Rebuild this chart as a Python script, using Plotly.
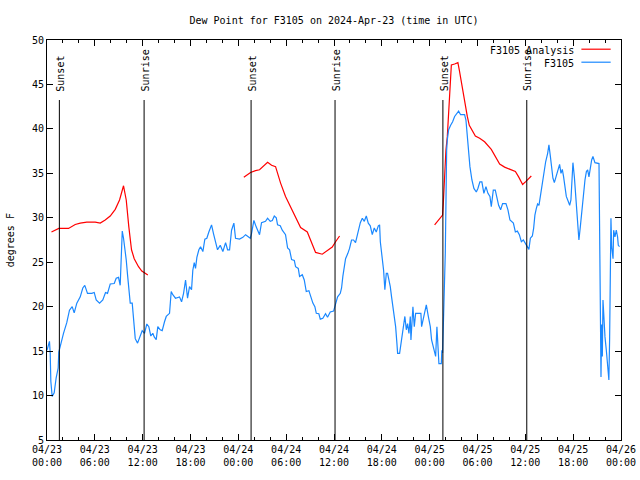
import pandas as pd
import plotly.graph_objects as go

BASE = pd.Timestamp("2024-04-23 00:00")

# Observed dew point (F3105): hours since 2024-04-23 00:00 UTC, degrees F
obs_hours = [0.0, 0.31, 0.4, 0.48, 0.65, 0.9, 1.15, 1.4, 1.48, 1.73, 2.07, 2.48, 2.82, 3.16, 3.41, 3.74,
             4.17, 4.49, 4.74, 5.08, 5.62, 5.92, 6.17, 6.59, 7.0, 7.34, 7.59, 7.93, 8.43, 8.68, 8.97, 9.18,
             9.26, 9.35, 9.44, 9.6, 9.76, 9.94, 10.1, 10.44, 10.69, 10.85, 11.07, 11.36, 11.69, 11.94,
             12.23, 12.52, 12.77, 13.02, 13.27, 13.45, 13.7, 13.9, 14.2, 14.45, 14.74, 14.96, 15.37, 15.58,
             15.78, 16.12, 16.62, 16.88, 17.13, 17.38, 17.63, 17.88, 18.13, 18.29, 18.47, 18.63, 18.8,
             19.05, 19.26, 19.55, 19.8, 20.05, 20.3, 20.64, 20.89, 21.14, 21.39, 21.73, 22.06, 22.4,
             22.65, 22.9, 23.15, 23.44, 23.65, 24.15, 24.57, 24.91, 25.5, 25.66, 25.95, 26.25, 26.66,
             26.91, 27.41, 27.67, 28.0, 28.26, 28.51, 28.76, 28.92, 29.26, 29.51, 29.92, 30.18, 30.43,
             30.68, 31.02, 31.18, 31.52, 31.68, 32.02, 32.27, 32.52, 32.85, 33.1, 33.35, 33.6, 33.78,
             34.1, 34.28, 34.6, 34.94, 35.19, 35.53, 35.95, 36.2, 36.45, 36.79, 36.95, 37.11, 37.29,
             37.45, 37.74, 37.95, 38.2, 38.45, 38.7, 38.96, 39.3, 39.55, 39.8, 40.05, 40.3, 40.55, 40.8,
             41.05, 41.3, 41.56, 41.72, 41.81, 42.06, 42.22, 42.38, 42.56, 42.72, 42.89, 43.06, 43.22,
             43.39, 43.56, 43.73, 43.89, 43.98, 44.23, 44.39, 44.57, 44.89, 45.07, 45.23, 45.4, 45.57,
             45.65, 45.73, 45.9, 46.07, 46.24, 46.4, 46.9, 46.99, 47.24, 47.58, 47.83, 48.08, 48.24,
             48.58, 48.75, 48.91, 49.16, 49.46, 49.53, 49.62, 49.71, 49.79, 49.96, 50.04, 50.13, 50.21,
             50.38, 50.63, 50.88, 51.13, 51.38, 51.63, 51.88, 52.38, 52.55, 52.72, 52.89, 53.05, 53.3,
             53.55, 53.85, 54.05, 54.3, 54.55, 54.8, 55.06, 55.31, 55.56, 55.73, 55.98, 56.23, 56.4,
             56.65, 56.9, 57.15, 57.57, 57.82, 58.07, 58.32, 58.5, 58.75, 59.0, 59.25, 59.5, 59.75, 60.0,
             60.29, 60.45, 60.63, 60.88, 61.04, 61.2, 61.38, 61.54, 61.71, 61.88, 62.05, 62.21, 62.39,
             62.55, 62.8, 62.96, 63.14, 63.3, 63.46, 63.64, 63.8, 63.97, 64.14, 64.3, 64.47, 64.64, 64.8,
             64.97, 65.14, 65.4, 65.56, 65.72, 65.9, 65.97, 66.15, 66.31, 66.47, 66.65, 66.72, 66.9,
             67.06, 67.23, 67.48, 67.66, 67.82, 67.98, 68.15, 68.32, 68.48, 68.73, 69.24, 69.32, 69.41,
             69.49, 69.57, 69.66, 69.74, 69.82, 69.99, 70.16, 70.33, 70.42, 70.48, 70.57, 70.66, 70.74,
             70.83, 71.0, 71.08, 71.24, 71.41, 71.57, 71.66, 71.82]
obs_values = [15.1, 16.1, 14.8, 11.6, 9.9, 10.3, 12.0, 13.1, 14.9, 15.9, 17.0, 18.2, 19.6, 20.0, 19.3, 20.4,
              21.1, 22.1, 22.4, 21.5, 21.5, 21.6, 20.75, 20.4, 20.75, 21.6, 21.5, 22.55, 22.6, 23.2, 23.3, 22.4,
              24.1, 26.9, 28.5, 27.7, 26.75, 25.25, 23.6, 20.4, 20.4, 18.2, 16.4, 15.9, 16.8, 17.3,
              17.0, 18.05, 17.75, 16.7, 17.0, 16.6, 16.3, 17.75, 17.4, 17.3, 18.3, 18.9, 19.25, 21.7,
              21.35, 20.95, 21.1, 20.55, 21.5, 23.0, 20.95, 22.25, 21.9, 24.1, 24.95, 24.3, 25.55,
              26.4, 26.75, 26.2, 27.6, 27.7, 28.4, 29.2, 28.2, 27.1, 26.4, 26.9, 26.2, 27.2,
              26.4, 26.4, 28.6, 29.4, 27.7, 27.6, 27.8, 28.1, 27.7, 28.25, 29.7, 28.95, 28.1,
              29.45, 29.6, 29.95, 29.6, 29.7, 30.2, 30.0, 29.2, 29.1, 28.6, 28.1, 26.6, 26.4,
              25.3, 25.2, 24.5, 24.3, 23.4, 23.6, 23.0, 21.7, 21.8, 21.1, 20.4, 20.0, 19.25,
              19.2, 18.6, 18.7, 19.2, 18.8, 19.4, 19.5, 20.4, 21.1, 21.5, 22.1, 23.4, 24.7,
              25.4, 26.0, 26.55, 27.5, 27.5, 27.2, 28.3, 29.45, 29.95, 29.6, 30.2, 29.4, 29.1, 28.1,
              28.85, 28.4, 29.1, 29.2, 27.3, 25.25, 24.1, 21.9, 23.75, 23.75, 23.0, 22.25, 21.1,
              20.0, 18.7, 17.75, 15.9, 14.75, 14.75, 15.9, 16.6, 18.9, 17.4, 18.1, 17.0, 18.9,
              16.25, 17.4, 20.0, 17.75, 19.25, 19.25, 19.25, 17.75, 18.9, 20.2, 18.9, 17.75, 16.25,
              15.1, 14.4, 17.75, 13.6, 13.6, 15.1, 14.8, 17.0, 20.4, 26.0, 33.9, 37.6, 38.75,
              39.9, 40.4, 40.8, 41.4, 41.75, 42.0, 41.6, 41.6, 41.0, 39.1, 37.6, 35.75, 34.25,
              33.3, 32.9, 33.3, 34.05, 34.05, 32.75, 33.5, 32.75, 32.4, 31.25, 33.1, 33.1, 32.4,
              31.4, 30.9, 31.6, 31.6, 30.9, 29.75, 29.6, 29.4, 28.4, 28.5, 28.1, 27.3, 27.5, 27.1,
              26.75, 26.45, 27.7, 27.95, 28.8, 30.3, 31.05, 31.55, 31.4, 32.4, 33.1, 34.05, 35.2,
              36.3, 37.25, 38.2, 36.9, 35.75, 34.45, 33.95, 34.45, 35.0, 35.7, 36.0, 35.0, 35.45, 34.6,
              33.5, 32.4, 31.8, 31.4, 32.0, 34.25, 36.2, 34.6, 32.55, 30.9, 28.6, 27.5, 29.0,
              30.5, 32.0, 34.25, 35.2, 35.4, 34.6, 35.75, 36.5, 36.9, 36.2, 36.1, 30.1, 18.1,
              12.1, 18.0, 14.4, 20.75, 18.9, 16.6, 15.1, 13.6, 12.5, 11.75, 16.25, 25.25, 29.95,
              26.75, 25.4, 28.6, 27.85, 28.6, 27.85, 26.9, 26.75]

# Analysis dew point (F3105 Analysis): three separate segments (None = gap)
ana_hours = [0.56, 1.48, 2.7, 3.54, 4.17, 4.99, 6.05, 6.68, 7.3, 7.93, 8.56, 9.1, 9.6, 9.94, 10.26, 10.6,
             10.94, 11.48, 11.89, 12.65, None,
             24.69, 25.53, 26.16, 26.66, 27.67, 28.17, 28.67, 29.3, 29.92, 30.55, 31.18, 31.81, 32.65,
             33.19, 33.69, 34.53, 35.16, 35.78, 36.2, 36.7, None,
             48.62, 49.12, 49.62, 49.71, 49.87, 50.04, 50.21, 50.38, 50.54, 50.72, 51.13, 51.54, 51.72,
             51.97, 52.22, 52.47, 52.72, 52.97, 53.3, 53.73, 54.27, 54.89, 55.73, 56.36, 56.78, 57.4,
             58.16, 58.75, 59.16, 59.66, 60.08, 60.75]
ana_values = [28.4, 28.8, 28.8, 29.25, 29.4, 29.5, 29.5, 29.4, 29.75, 30.2, 30.95, 32.0, 33.6, 32.0, 29.0, 26.4,
              25.4, 24.5, 24.0, 23.55, None,
              34.55, 35.1, 35.3, 35.4, 36.25, 35.9, 35.75, 33.9, 32.4, 31.25, 29.95, 28.9, 28.4,
              27.1, 26.1, 25.9, 26.3, 26.7, 27.3, 27.95, None,
              29.2, 29.75, 30.3, 31.6, 35.4, 37.6, 39.1, 41.75, 45.1, 47.2, 47.3, 47.45, 46.6,
              45.3, 43.6, 42.7, 41.4, 40.4, 39.9, 39.2, 38.95, 38.55, 37.7, 36.7, 36.05, 35.7,
              35.45, 35.2, 34.6, 33.75, 34.1, 34.7]

# Sun events (hours since 2024-04-23 00:00 UTC)
event_hours = [1.55, 12.18, 25.6, 36.13, 49.66, 60.18]
event_labels = ["Sunset", "Sunrise", "Sunset", "Sunrise", "Sunset", "Sunrise"]

# X tick labels every 6 hours
tick_hours = [0, 6, 12, 18, 24, 30, 36, 42, 48, 54, 60, 66, 72]
tick_labels = ["04/23<br>00:00", "04/23<br>06:00", "04/23<br>12:00", "04/23<br>18:00",
               "04/24<br>00:00", "04/24<br>06:00", "04/24<br>12:00", "04/24<br>18:00",
               "04/25<br>00:00", "04/25<br>06:00", "04/25<br>12:00", "04/25<br>18:00",
               "04/26<br>00:00"]

series_names = ["F3105 Analysis", "F3105"]
series_colors = ["#ff0000", "#1a88ff"]


def to_time(hours):
    return [None if h is None else BASE + pd.Timedelta(hours=h) for h in hours]


FONT = "DejaVu Sans Mono"

fig = go.Figure()
fig.add_trace(go.Scatter(x=to_time(ana_hours), y=ana_values, mode="lines", name=series_names[0],
                         line=dict(color=series_colors[0], width=1.2), connectgaps=False))
fig.add_trace(go.Scatter(x=to_time(obs_hours), y=obs_values, mode="lines", name=series_names[1],
                         line=dict(color=series_colors[1], width=1.2)))

shapes = []
annotations = []
for h, lab in zip(event_hours, event_labels):
    t = BASE + pd.Timedelta(hours=h)
    shapes.append(dict(type="line", xref="x", yref="y", x0=t, x1=t, y0=5, y1=43.25,
                       line=dict(color="black", width=1)))
    annotations.append(dict(x=t, y=44.0, xref="x", yref="y", text=lab, textangle=-90,
                            showarrow=False, xanchor="center", yanchor="bottom", xshift=1,
                            font=dict(family=FONT, size=10, color="black")))

# legend (gnuplot style: text then sample line, top right)
leg_rows = [0.975, 0.9425]
for name, color, yy in zip(series_names, series_colors, leg_rows):
    annotations.append(dict(x=0.922, y=yy, xref="paper", yref="paper", text=name, showarrow=False,
                            xanchor="right", yanchor="middle",
                            font=dict(family=FONT, size=10, color="black")))
    shapes.append(dict(type="line", xref="paper", yref="paper", x0=0.931, x1=0.982,
                       y0=yy + 0.002, y1=yy + 0.002, line=dict(color=color, width=1.2)))

annotations.append(dict(x=-0.064, y=0.5, xref="paper", yref="paper", text="degrees F",
                        textangle=-90, showarrow=False, xanchor="center", yanchor="middle",
                        font=dict(family=FONT, size=10, color="black")))

fig.update_layout(
    width=640, height=480,
    margin=dict(l=47, r=19, t=40, b=40, autoexpand=False),
    paper_bgcolor="white", plot_bgcolor="white",
    font=dict(family=FONT, size=10, color="black"),
    showlegend=False,
    title=dict(text="Dew Point for F3105 on 2024-Apr-23 (time in UTC)", x=0.5, xref="paper",
               xanchor="center", y=1 - 20 / 480, yref="container", yanchor="middle",
               font=dict(family=FONT, size=10, color="black")),
    shapes=shapes,
    annotations=annotations,
)
fig.update_xaxes(
    type="date",
    range=[BASE, BASE + pd.Timedelta(hours=72)],
    tickmode="array",
    tickvals=to_time(tick_hours),
    ticktext=tick_labels,
    ticks="inside", ticklen=6, tickcolor="black",
    minor=dict(tick0=BASE, dtick=2 * 3600 * 1000, ticks="inside", ticklen=3, tickcolor="black",
               showgrid=False),
    showline=True, linecolor="black", linewidth=1, mirror="ticks",
    showgrid=False, zeroline=False, automargin=False,
    tickfont=dict(family=FONT, size=10, color="black"),
)
fig.update_yaxes(
    range=[5, 50], tickmode="linear", tick0=5, dtick=5,
    ticks="inside", ticklen=6, tickcolor="black",
    showline=True, linecolor="black", linewidth=1, mirror="ticks",
    showgrid=False, zeroline=False, automargin=False,
    tickfont=dict(family=FONT, size=10, color="black"),
)

# remove the default 8px page margin so the 640x480 figure fills the window exactly
fig.write_html("out.html", config={"displayModeBar": False},
               post_script="document.body.style.margin='0px';")
